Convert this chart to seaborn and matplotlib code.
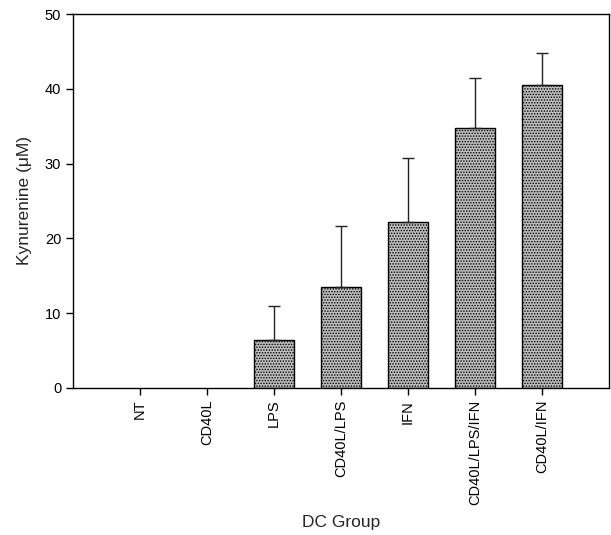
import numpy as np
import pandas as pd
import seaborn as sns
import matplotlib.pyplot as plt

# values
groups = ["NT", "CD40L", "LPS", "CD40L/LPS", "IFN", "CD40L/LPS/IFN", "CD40L/IFN"]
kyn = [0.0, 0.0, 6.4, 13.5, 22.2, 34.8, 40.5]
kyn_err = [0.0, 0.0, 4.6, 8.2, 8.6, 6.6, 4.3]

df = pd.DataFrame({"group": groups, "kyn": kyn})

sns.set_style("ticks")
plt.rcParams['font.family'] = ['Liberation Sans', 'DejaVu Sans']
plt.rcParams['hatch.color'] = '#444444'
plt.rcParams['hatch.linewidth'] = 0.7

fig, ax = plt.subplots(figsize=(6.11, 5.35), dpi=100)
fig.subplots_adjust(left=0.1195, right=0.9967, bottom=0.2748, top=0.9738)

sns.barplot(data=df, x="group", y="kyn", ax=ax, color="#bdbdbd",
            width=0.6, edgecolor="black", linewidth=1.0, saturation=1)
for p in ax.patches:
    p.set_hatch("......")
    if p.get_height() == 0:
        p.set_visible(False)

# only the upper half of the error bar is shown
xpos = ax.get_xticks()
ax.errorbar(xpos[2:], kyn[2:], yerr=[np.zeros(5), kyn_err[2:]], fmt="none",
            ecolor="#222222", elinewidth=1.0, capsize=4.5, capthick=1.0)

ax.set_xlim(-1, 7)
ax.set_ylim(0, 50)
ax.set_yticks([0, 10, 20, 30, 40, 50])
for s in ax.spines.values():
    s.set_visible(True)
    s.set_linewidth(1.0)
    s.set_color("black")

ax.tick_params(axis="both", direction="out", length=5, width=1, labelsize=10.5, colors="black")
ax.set_xticks(xpos)
ax.set_xticklabels(groups, rotation=90, va="top", ha="center")
ax.set_xlabel("DC Group", fontsize=12.5, labelpad=7)
ax.set_ylabel("Kynurenine (\u03bcM)", fontsize=12.5, labelpad=9)

plt.savefig("out.png", dpi=100)
